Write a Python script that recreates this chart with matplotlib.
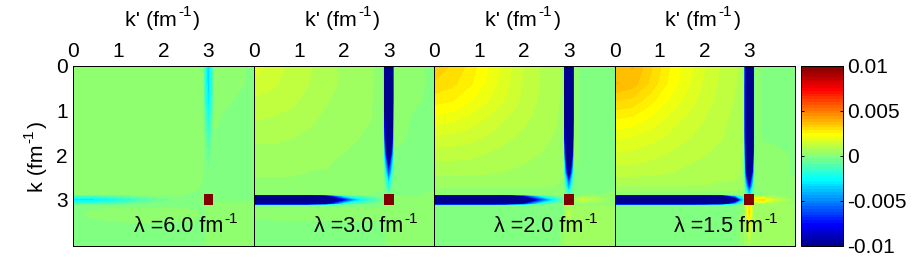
import numpy as np
import matplotlib
matplotlib.use("Agg")
import matplotlib.pyplot as plt
from matplotlib.colors import ListedColormap

plt.rcParams["font.family"] = ["Liberation Sans", "DejaVu Sans"]

W, H = 916, 257

k_nodes = [0, .4, .8, 1.2, 1.6, 2.0, 2.4, 2.7, 2.87, 2.9, 3.0, 3.1, 3.13, 3.3, 3.6, 4.02]
peak_x = [2.89, 3.11]
peak_y = [2.87, 3.11]
peak_value = [[0.01]]
lambda_labels = ["6.0", "3.0", "2.0", "1.5"]
tick_values = [0, 1, 2, 3]
cbar_ticks = [-0.01, -0.005, 0, 0.005, 0.01]
cbar_labels = ["-0.01", "-0.005", "0", "0.005", "0.01"]

# values in units of 0.001, columns along k', rows along k
v_60 = [
    [.25, .25, .25, .25, .25, .25, .25, .2, .15, -1.2, -3.6, -1.2, .15, .15, .12, -.1],
    [.25, .25, .25, .25, .25, .25, .25, .2, .15, -1.2, -3.6, -1.2, .15, .15, .1, -.1],
    [.25, .25, .25, .25, .25, .25, .25, .2, .15, -1.0, -3.2, -1.0, .15, .12, -.05, -.1],
    [.25, .25, .25, .25, .25, .25, .25, .2, .15, -.6, -2.3, -.6, .12, -.05, -.1, -.1],
    [.25, .25, .25, .25, .25, .25, .25, .2, .12, -.3, -1.5, -.3, -.05, -.1, -.1, -.1],
    [.25, .25, .25, .25, .25, .25, .25, .2, .1, -.1, -.7, -.1, -.1, -.1, -.1, -.1],
    [.25, .25, .25, .25, .25, .25, .25, .2, .1, -.1, -.2, -.1, -.1, -.1, -.1, -.1],
    [.2, .2, .2, .2, .2, .2, .2, .15, -.05, -.1, -.1, -.1, -.1, -.1, -.1, -.1],
    [.05, .05, .05, .05, .05, .05, .05, -.1, -.1, -.1, -.1, -.1, -.1, -.1, -.1, -.05],
    [-1.0, -1.0, -.8, -.5, -.25, -.1, -.1, -.1, -.1, -.1, -.1, -.1, -.1, -.1, -.1, -.05],
    [-3.4, -3.3, -2.9, -2.1, -1.2, -.5, -.1, -.1, -.1, -.1, -.1, -.1, -.1, -.1, -.1, -.05],
    [-1.0, -1.0, -.8, -.5, -.25, -.1, -.1, -.1, -.1, -.1, -.1, -.05, .05, .1, .1, .1],
    [-.1, -.1, -.1, -.1, -.1, -.1, -.1, -.1, -.1, -.05, .1, .15, .2, .2, .2, .2],
    [-.05, .05, .15, .2, .2, .18, .15, .1, -.05, -.05, .1, .15, .2, .2, .2, .2],
    [-.1, -.1, -.1, -.1, -.1, -.1, -.1, -.1, -.1, -.1, .1, .15, .2, .2, .2, .2],
    [-.1, -.1, -.1, -.1, -.1, -.1, -.1, -.1, -.1, -.05, .1, .15, .2, .2, .2, .2],
]
v_30 = [
    [1.9, 1.4, 1.2, 1.0, .75, .55, .4, .3, .25, -14, -30, -14, .15, .12, .1, -.1],
    [1.4, 1.3, 1.15, .95, .75, .55, .4, .3, .25, -14, -30, -14, .15, .12, .1, -.1],
    [1.2, 1.15, 1.0, .85, .65, .5, .35, .3, .25, -14, -30, -14, .15, .12, .05, -.1],
    [.95, .9, .85, .7, .55, .45, .35, .3, .25, -11, -29, -11, .15, .1, -.1, -.1],
    [.7, .7, .65, .55, .45, .4, .3, .25, .2, -8, -26, -8, .1, .05, -.1, -.1],
    [.5, .5, .45, .4, .35, .3, .25, .25, .2, -4, -16, -4, -.05, -.1, -.1, -.1],
    [.35, .35, .35, .3, .3, .25, .25, .2, .15, -1, -7, -1, -.1, -.1, -.1, -.1],
    [.2, .2, .2, .2, .2, .2, .2, .15, .1, -.3, -2.5, -.3, -.1, -.1, -.1, -.1],
    [.05, .05, .05, .05, .05, .05, .05, -.05, -.1, -.1, -1, -.1, -.1, -.1, -.1, .1],
    [-14, -14, -14, -14, -9, -2, -.5, -.2, -.1, -.1, -.1, -.1, -.1, -.1, -.1, .1],
    [-32, -32, -32, -30, -22, -9, -3.2, -1.6, -.6, -.1, -.1, -.1, .25, .2, .2, .1],
    [-14, -14, -14, -14, -9, -2, -.5, -.2, -.1, -.1, -.1, .1, .2, .2, .2, .2],
    [-.05, -.05, -.05, -.05, -.05, -.05, -.05, -.05, -.05, .1, .2, .2, .25, .25, .25, .25],
    [.1, .1, .12, .12, .12, .12, .12, .1, .1, .1, .25, .25, .25, .25, .25, .25],
    [-.1, -.1, -.1, -.1, -.1, -.1, -.1, -.1, -.1, -.05, .2, .25, .25, .25, .25, .25],
    [-.1, -.1, -.1, -.1, -.1, -.1, -.1, -.1, -.1, -.05, .2, .25, .25, .25, .25, .25],
]
v_20 = [
    [3.3, 3.1, 2.7, 2.2, 1.7, 1.25, .9, .7, .6, -14, -30, -14, .1, -.05, -.1, -.1],
    [3.1, 2.9, 2.55, 2.1, 1.65, 1.2, .9, .7, .6, -14, -30, -14, .1, -.05, -.1, -.1],
    [2.6, 2.5, 2.2, 1.85, 1.5, 1.15, .85, .7, .55, -14, -30, -14, .1, -.05, -.1, -.1],
    [2.05, 1.95, 1.75, 1.5, 1.25, 1.0, .8, .65, .5, -14, -30, -14, .1, -.05, -.1, -.1],
    [1.5, 1.45, 1.35, 1.2, 1.0, .85, .7, .6, .5, -12, -29, -12, .1, -.05, -.1, -.1],
    [1.05, 1.05, 1.0, .9, .8, .7, .6, .5, .4, -7, -24, -7, .1, -.05, -.1, -.1],
    [.7, .7, .7, .65, .6, .55, .5, .45, .35, -2.5, -13, -2.5, -.05, -.1, -.1, -.1],
    [.35, .35, .35, .35, .35, .35, .35, .3, .25, -.7, -5, -.7, -.05, -.1, -.1, -.1],
    [.1, .1, .1, .1, .1, .1, .1, .1, -.05, -.2, -2, -.2, -.1, -.1, -.05, .1],
    [-14, -14, -14, -14, -13, -7, -1.5, -.4, -.1, -.1, -.1, -.1, -.1, .1, .1, .1],
    [-32, -32, -32, -32, -30, -19, -7, -3, -1.2, -.1, -.1, -.1, .6, 1.2, .8, .2],
    [-14, -14, -14, -14, -13, -7, -1.5, -.4, -.1, -.1, -.1, .1, .2, .2, .2, .2],
    [-.1, -.1, -.1, -.1, -.1, -.1, -.1, -.1, -.05, .1, .6, .3, .3, .3, .3, .3],
    [-.1, -.1, -.1, -.1, -.1, -.1, -.1, -.1, -.05, .2, 1.0, .4, .4, .4, .4, .4],
    [-.1, -.1, -.1, -.1, -.1, -.1, -.1, -.1, .1, .3, .6, .4, .4, .4, .4, .4],
    [-.1, -.1, -.1, -.1, -.1, -.1, -.1, -.1, .1, .3, .4, .4, .4, .4, .4, .4],
]
v_15 = [
    [3.5, 3.8, 3.2, 2.55, 2.05, 1.6, 1.2, .95, .75, -14, -30, -14, .1, -.05, -.1, -.1],
    [3.8, 3.6, 3.05, 2.45, 1.95, 1.5, 1.15, .95, .75, -14, -30, -14, .1, -.05, -.1, -.1],
    [3.1, 3.0, 2.6, 2.15, 1.75, 1.4, 1.1, .9, .7, -14, -30, -14, .1, -.05, -.1, -.1],
    [2.5, 2.4, 2.1, 1.8, 1.5, 1.25, 1.0, .85, .7, -14, -30, -14, .1, -.05, -.1, -.1],
    [1.95, 1.85, 1.7, 1.5, 1.3, 1.1, .95, .8, .65, -13, -30, -13, .15, -.05, -.1, -.1],
    [1.5, 1.45, 1.35, 1.2, 1.05, .95, .85, .75, .6, -9, -26, -9, .15, .12, .1, -.05],
    [1.05, 1.05, 1.0, .95, .85, .8, .75, .7, .55, -5, -20, -5, .15, .2, .12, -.05],
    [.6, .6, .6, .6, .6, .6, .55, .55, .45, -1.5, -9, -1.5, .1, .1, .1, .1],
    [.15, .15, .15, .15, .15, .15, .15, .15, .1, -.5, -4, -.5, -.05, -.05, .1, .2],
    [-14, -14, -14, -14, -14, -13, -10, -3, -.6, -.1, -.1, -.1, .1, .2, .2, .2],
    [-32, -32, -32, -32, -32, -32, -28, -14, -4, -.1, -.1, -.1, 2.6, 3.0, 1.2, .3],
    [-14, -14, -14, -14, -14, -13, -10, -3, -.6, -.1, -.1, .1, .3, .3, .3, .3],
    [-.1, -.1, -.1, -.1, -.1, -.1, -.1, -.1, .1, .2, 2.8, .4, .4, .4, .4, .4],
    [-.1, -.1, -.1, -.1, -.1, -.1, -.1, -.1, .15, .4, 3.0, .5, .5, .5, .5, .5],
    [-.1, -.1, -.1, -.1, -.1, -.1, -.1, -.1, .2, .4, 1.6, .5, .5, .5, .5, .5],
    [-.1, -.1, -.1, -.1, -.1, -.1, -.1, -.1, .2, .4, .6, .5, .5, .5, .5, .5],
]
panels = [v_60, v_30, v_20, v_15]

edges = [73.4, 254.4, 434.4, 614.6, 795]
top, bottom = 65.5, 245.5
xlabel_lefts = [125, 305, 485.3, 665.3]
lambda_lefts = [133.5, 314, 494, 674]


def matlab_jet():
    # the 64 step jet of the original, blue and red ramps end on half values
    u = np.r_[np.arange(1, 17) / 16, np.ones(15), np.arange(16, 0, -1) / 16]
    rgb = np.zeros((64, 3))
    g = np.arange(8, 8 + len(u))
    for ch, idx in enumerate([g + 16, g, g - 16]):
        ok = (idx >= 0) & (idx < 64)
        rgb[idx[ok], ch] = u[ok]
    return ListedColormap(rgb)


def px_axes(fig, x0, x1, y0, y1):
    return fig.add_axes([x0 / W, 1 - y1 / H, (x1 - x0) / W, (y1 - y0) / H])


def sup_text(fig, x, y, head, tail="", size=15.4, rot=0, rise=9):
    # text with a hyphen "-1" exponent, placed in pixels along the baseline
    rend = fig.canvas.get_renderer()
    pen = 0
    for s, fs, up in [(head, size, 0), ("-1", 11, rise), (tail, size, 0)]:
        if not s:
            continue
        if rot:
            px, py = x - up, y - pen
        else:
            px, py = x + pen, y - up
        t = fig.text(px / W, 1 - py / H, s, fontsize=fs, rotation=rot, ha="left",
                     va="baseline", rotation_mode="anchor")
        ext = t.get_window_extent(rend)
        pen += (ext.height if rot else ext.width) + 1.5


fig = plt.figure(figsize=(W / 100, H / 100), dpi=100)
cmap = matlab_jet()
levels = np.linspace(-0.01, 0.01, 65)

for i, (vals, lam) in enumerate(zip(panels, lambda_labels)):
    ax = px_axes(fig, edges[i], edges[i + 1], top, bottom)
    z = np.array(vals) * 1e-3
    ax.contourf(k_nodes, k_nodes, z, levels=levels, cmap=cmap, extend="both", antialiased=False)
    ax.pcolormesh(peak_x, peak_y, peak_value, cmap=cmap, vmin=-0.01, vmax=0.01)
    ax.set_xlim(0, 4.02)
    ax.set_ylim(4.02, 0)
    ax.xaxis.tick_top()
    ax.set_xticks(tick_values)
    ax.tick_params(length=0, labelsize=15)
    ax.tick_params(axis="x", pad=3.5)
    ax.tick_params(axis="y", pad=4)
    if i == 0:
        ax.set_yticks(tick_values)
    else:
        ax.set_yticks([])
    for sp in ax.spines.values():
        sp.set_linewidth(0.72)
    sup_text(fig, xlabel_lefts[i], 25.5, "k' (fm", ")")
    sup_text(fig, lambda_lefts[i], 231.7, "\u03bb =" + lam + " fm", size=15.5)

sup_text(fig, 43.3, 191.7, "k (fm", ")", rot=90, rise=10)

cax = px_axes(fig, 800.5, 842.7, top, bottom)
sm = plt.cm.ScalarMappable(norm=plt.Normalize(-0.01, 0.01), cmap=cmap)
cb = fig.colorbar(sm, cax=cax)
cb.set_ticks(cbar_ticks)
cb.set_ticklabels(cbar_labels)
cb.ax.tick_params(direction="in", length=2, width=0.72, left=True, right=True, labelsize=15, pad=3.5)
cb.outline.set_linewidth(0.72)

fig.savefig("out.png", dpi=100)
